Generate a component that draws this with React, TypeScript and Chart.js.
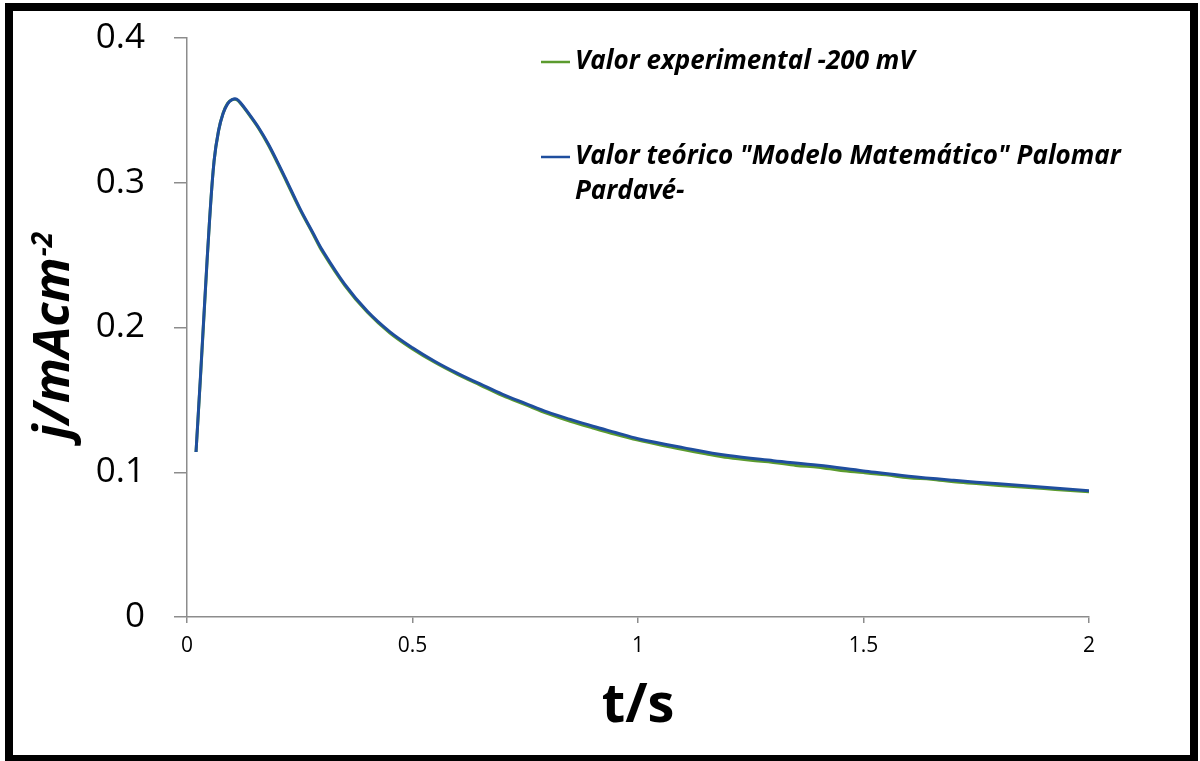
import React, { useEffect, useRef } from "react";
import { Chart, registerables } from "chart.js";

Chart.register(...registerables);

// ---- data ----
const theoT = [0.02, 0.03, 0.04, 0.05, 0.06, 0.07, 0.08, 0.09, 0.1, 0.11, 0.12, 0.14, 0.16, 0.18, 0.2, 0.22, 0.25, 0.28, 0.3, 0.35, 0.4, 0.45, 0.5, 0.55, 0.6, 0.65, 0.7, 0.75, 0.8, 0.85, 0.9, 0.95, 1.0, 1.1, 1.2, 1.3, 1.4, 1.5, 1.6, 1.7, 1.8, 1.9, 2.0];
const theoJ = [0.114, 0.167, 0.222, 0.274, 0.315, 0.336, 0.3478, 0.3545, 0.3574, 0.3578, 0.3548, 0.3465, 0.3375, 0.327, 0.3148, 0.302, 0.2825, 0.265, 0.2535, 0.2298, 0.2112, 0.197, 0.186, 0.1765, 0.1683, 0.161, 0.1538, 0.1476, 0.1415, 0.1365, 0.1318, 0.1275, 0.1232, 0.117, 0.1115, 0.108, 0.1048, 0.1009, 0.0972, 0.0944, 0.092, 0.0897, 0.0873];

const expT = [0.02, 0.03, 0.04, 0.05, 0.06, 0.07, 0.08, 0.09, 0.1, 0.11, 0.12, 0.14, 0.16, 0.18, 0.2, 0.22, 0.25, 0.28, 0.3, 0.35, 0.4, 0.45, 0.5, 0.55, 0.6, 0.65, 0.7, 0.75, 0.8, 0.85, 0.9, 0.95, 1.0, 1.05, 1.1, 1.15, 1.2, 1.25, 1.3, 1.35, 1.4, 1.45, 1.5, 1.55, 1.6, 1.65, 1.7, 1.75, 1.8, 1.85, 1.9, 1.95, 2.0];
const expJ = [0.114, 0.166, 0.221, 0.274, 0.315, 0.336, 0.348, 0.3548, 0.3574, 0.3574, 0.3543, 0.346, 0.337, 0.3262, 0.314, 0.3012, 0.2818, 0.2643, 0.2525, 0.229, 0.2105, 0.1962, 0.1852, 0.1758, 0.1676, 0.1602, 0.1529, 0.1467, 0.1405, 0.1352, 0.1306, 0.1262, 0.1222, 0.1188, 0.1157, 0.1128, 0.1101, 0.1082, 0.1068, 0.1047, 0.1035, 0.1012, 0.0998, 0.0982, 0.0962, 0.0952, 0.0934, 0.0922, 0.0909, 0.0898, 0.0887, 0.0876, 0.0866];

const seriesLabels = ["Valor experimental -200 mV", 'Valor teórico "Modelo Matemático" Palomar Pardavé-'];
const seriesColors = ["#5B9B2E", "#1F4E9E"];

const xTicks = [0, 0.5, 1, 1.5, 2];
const yTicks = [0, 0.1, 0.2, 0.3, 0.4];
const xTickLabels = ["0", "0.5", "1", "1.5", "2"];
const yTickLabels = ["0", "0.1", "0.2", "0.3", "0.4"];

const xTitle = "t/s";
const yTitleMain = "j/mAcm";
const yTitleSup = "-2";

const FONT = "'Open Sans', 'DejaVu Sans', sans-serif";

const overlayPlugin = {
  id: "overlayText",
  afterDraw(chart: any) {
    const ctx = chart.ctx;
    const area = chart.chartArea;
    ctx.save();
    // legend
    const lineX0 = 541;
    const lineX1 = 570;
    const textX = 575;
    const startYs = [62, 157];
    const lineGap = 35;
    const maxW = 600;
    ctx.font = `italic bold 26px ${FONT}`;
    ctx.textBaseline = "middle";
    ctx.textAlign = "left";
    chart.data.datasets.forEach((ds: any, i: number) => {
      const y = startYs[i];
      ctx.strokeStyle = ds.borderColor;
      ctx.lineWidth = 2.5;
      ctx.beginPath();
      ctx.moveTo(lineX0, y);
      ctx.lineTo(lineX1, y);
      ctx.stroke();
      const words = String(ds.label).split(" ");
      const lines: string[] = [];
      let cur = "";
      words.forEach((w) => {
        const test = cur ? cur + " " + w : w;
        if (ctx.measureText(test).width > maxW && cur) {
          lines.push(cur);
          cur = w;
        } else cur = test;
      });
      if (cur) lines.push(cur);
      ctx.fillStyle = "#000";
      lines.forEach((ln, k) => ctx.fillText(ln, textX, y + k * lineGap));
    });

    // x title
    ctx.font = `bold 54px ${FONT}`;
    ctx.textAlign = "center";
    ctx.textBaseline = "alphabetic";
    ctx.fillText(xTitle, (area.left + area.right) / 2, 722);

    // y title with superscript
    const cy = 336;
    ctx.translate(69, cy);
    ctx.rotate(-Math.PI / 2);
    ctx.font = `italic bold 50px ${FONT}`;
    const wMain = ctx.measureText(yTitleMain).width;
    ctx.font = `italic bold 28px ${FONT}`;
    const wSup = ctx.measureText(yTitleSup).width;
    const x0 = -(wMain + wSup) / 2;
    ctx.textAlign = "left";
    ctx.font = `italic bold 50px ${FONT}`;
    ctx.fillText(yTitleMain, x0, 0);
    ctx.font = `italic bold 28px ${FONT}`;
    ctx.fillText(yTitleSup, x0 + wMain + 1, -17);
    ctx.restore();
  },
};

export default function App() {
  const ref = useRef<HTMLCanvasElement | null>(null);
  useEffect(() => {
    if (!ref.current) return;
    const chart = new Chart(ref.current, {
      type: "line",
      data: {
        datasets: [
          {
            label: seriesLabels[0],
            data: expT.map((t, i) => ({ x: t, y: expJ[i] })),
            borderColor: seriesColors[0],
            borderWidth: 3,
            pointRadius: 0,
            tension: 0.35,
            order: 2,
          },
          {
            label: seriesLabels[1],
            data: theoT.map((t, i) => ({ x: t, y: theoJ[i] })),
            borderColor: seriesColors[1],
            borderWidth: 3,
            pointRadius: 0,
            tension: 0.35,
            order: 1,
          },
        ],
      },
      options: {
        responsive: false,
        animation: false,
        events: [],
        layout: { padding: { left: 0, top: 38, right: 111, bottom: 0 } },
        plugins: { legend: { display: false }, tooltip: { enabled: false } },
        scales: {
          x: {
            type: "linear",
            min: 0,
            max: 2,
            afterBuildTicks: (s: any) => {
              s.ticks = xTicks.map((v) => ({ value: v }));
            },
            afterFit: (s: any) => {
              s.height = 144;
              s.paddingLeft = 0;
              s.paddingRight = 0;
            },
            ticks: {
              callback: (v: any) => xTickLabels[xTicks.indexOf(Number(v))] ?? "",
              font: { family: FONT, size: 21 },
              color: "#000",
              padding: 10,
              maxRotation: 0,
            },
            grid: { drawOnChartArea: false, drawTicks: true, tickLength: 6, color: "#8c8c8c", lineWidth: 1.5 },
            border: { display: true, color: "#8c8c8c", width: 1.5 },
          },
          y: {
            type: "linear",
            min: 0,
            max: 0.4,
            afterBuildTicks: (s: any) => {
              s.ticks = yTicks.map((v) => ({ value: v }));
            },
            afterFit: (s: any) => {
              s.width = 187;
              s.paddingTop = 0;
              s.paddingBottom = 0;
            },
            ticks: {
              callback: (v: any) => {
                const idx = yTicks.findIndex((t) => Math.abs(t - Number(v)) < 1e-9);
                return idx >= 0 ? yTickLabels[idx] : "";
              },
              font: { family: FONT, size: 35 },
              color: "#000",
              padding: 29,
            },
            grid: { drawOnChartArea: false, drawTicks: true, tickLength: 13, color: "#8c8c8c", lineWidth: 1.5 },
            border: { display: true, color: "#8c8c8c", width: 1.5 },
          },
        },
      },
      plugins: [overlayPlugin],
    } as any);
    return () => chart.destroy();
  }, []);

  return (
    <div style={{ position: "fixed", left: 0, top: 0, width: 1200, height: 761, background: "#fff", overflow: "hidden" }}>
      <canvas ref={ref} width={1200} height={761} style={{ position: "absolute", left: 0, top: 0, width: 1200, height: 761 }} />
      <div
        style={{
          position: "absolute",
          left: 5,
          top: 3,
          width: 1193,
          height: 760,
          boxSizing: "border-box",
          border: "8px solid #000",
          pointerEvents: "none",
        }}
      />
    </div>
  );
}
